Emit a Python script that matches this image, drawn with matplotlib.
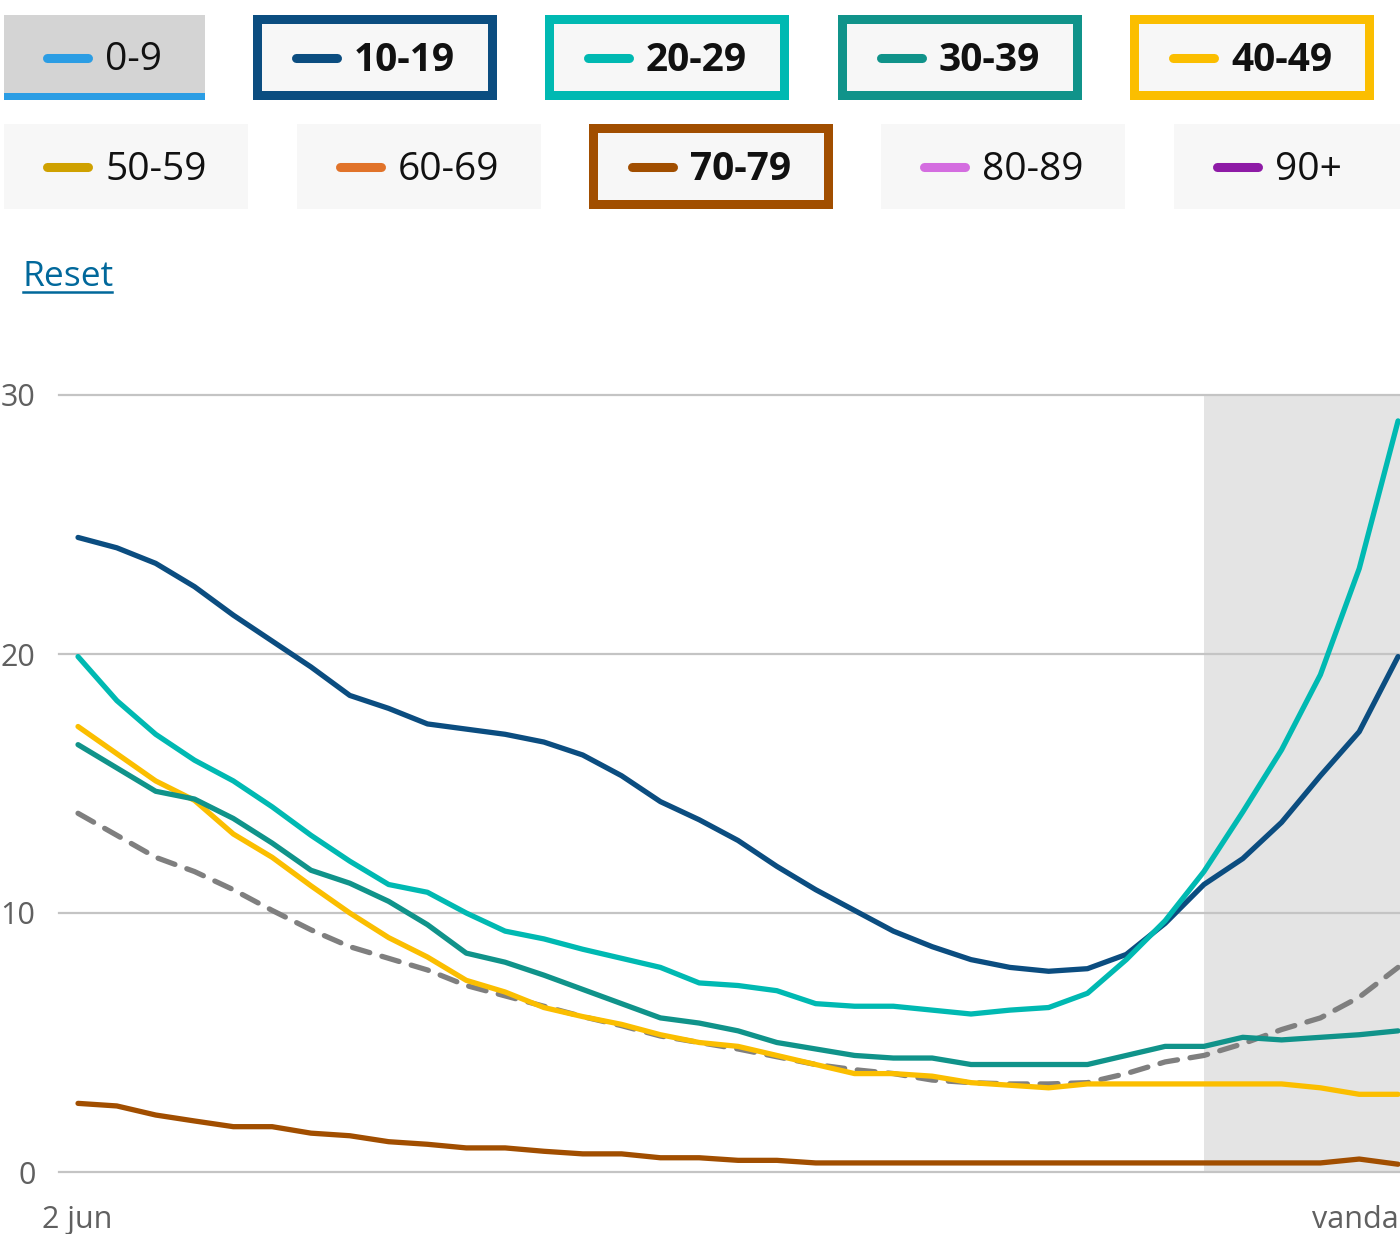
import matplotlib
matplotlib.use("Agg")
import matplotlib.pyplot as plt
from matplotlib.patches import Rectangle
import numpy as np

plt.rcParams['font.family'] = ['Open Sans', 'DejaVu Sans']

# ---- data ----
days = np.arange(35)          # 2 jun .. vandaag
age_10_19 = [24.5, 24.1, 23.5, 22.6, 21.5, 20.5, 19.5, 18.4, 17.9, 17.3, 17.1, 16.9,
             16.6, 16.1, 15.3, 14.3, 13.6, 12.8, 11.8, 10.9, 10.1, 9.3, 8.7, 8.2,
             7.9, 7.75, 7.85, 8.4, 9.6, 11.1, 12.1, 13.5, 15.3, 17.0, 19.9]
age_20_29 = [19.9, 18.2, 16.9, 15.9, 15.1, 14.1, 13.0, 12.0, 11.1, 10.8, 10.0, 9.3,
             9.0, 8.6, 8.25, 7.9, 7.3, 7.2, 7.0, 6.5, 6.4, 6.4, 6.25, 6.1,
             6.25, 6.35, 6.9, 8.2, 9.7, 11.6, 13.9, 16.3, 19.2, 23.3, 29.0]
age_30_39 = [16.5, 15.6, 14.7, 14.4, 13.65, 12.7, 11.65, 11.15, 10.45, 9.55, 8.45, 8.1,
             7.6, 7.05, 6.5, 5.95, 5.75, 5.45, 5.0, 4.75, 4.5, 4.4, 4.4, 4.15,
             4.15, 4.15, 4.15, 4.5, 4.85, 4.85, 5.2, 5.1, 5.2, 5.3, 5.45]
age_40_49 = [17.2, 16.15, 15.1, 14.35, 13.05, 12.15, 11.05, 10.0, 9.05, 8.3, 7.4, 6.95,
             6.35, 6.0, 5.7, 5.3, 5.0, 4.85, 4.5, 4.15, 3.8, 3.8, 3.7, 3.45,
             3.35, 3.25, 3.4, 3.4, 3.4, 3.4, 3.4, 3.4, 3.25, 3.0, 3.0]
age_70_79 = [2.65, 2.55, 2.2, 1.97, 1.75, 1.75, 1.5, 1.4, 1.17, 1.07, 0.93, 0.93,
             0.8, 0.7, 0.7, 0.55, 0.55, 0.45, 0.45, 0.35, 0.35, 0.35, 0.35, 0.35,
             0.35, 0.35, 0.35, 0.35, 0.35, 0.35, 0.35, 0.35, 0.35, 0.5, 0.3]
average = [13.85, 13.0, 12.15, 11.6, 10.9, 10.1, 9.35, 8.7, 8.25, 7.8, 7.2, 6.8,
           6.4, 6.0, 5.65, 5.25, 5.0, 4.75, 4.45, 4.15, 3.95, 3.8, 3.55, 3.45,
           3.4, 3.4, 3.45, 3.8, 4.25, 4.5, 4.95, 5.5, 5.95, 6.75, 7.9]
shade_from = 29

groups = ["0-9", "10-19", "20-29", "30-39", "40-49", "50-59", "60-69", "70-79", "80-89", "90+"]
group_colors = ["#2b9de4", "#0b4d80", "#00b9b2", "#10938a", "#fbbe00",
                "#cfa100", "#e1732a", "#a14e00", "#d46de0", "#8e1ba6"]
selected = ["10-19", "20-29", "30-39", "40-49", "70-79"]
shown = {"10-19": age_10_19, "20-29": age_20_29, "30-39": age_30_39,
         "40-49": age_40_49, "70-79": age_70_79}

W, H = 1400, 1234
fig = plt.figure(figsize=(W / 100, H / 100), dpi=100)

# ---- chart ----
ax = fig.add_axes([59 / W, (H - 1172) / H, (W - 59) / W, (1172 - 395) / H])
ax.set_xlim(-0.49, 34.05)
ax.set_ylim(0, 30)
ax.axvspan(shade_from, 40, color="#e4e4e4", zorder=0, lw=0)
for v in [0, 10, 20, 30]:
    ax.axhline(v, color="#c4c4c4", lw=1.6, zorder=1, clip_on=False)

ax.plot(days, average, color="#7f7f7f", lw=3.8, ls=(0, (3.4, 2.4)),
        dash_capstyle="round", zorder=2)
for g in ["70-79", "40-49", "30-39", "10-19", "20-29"]:
    ax.plot(days, shown[g], color=group_colors[groups.index(g)], lw=3.8,
            solid_capstyle="round", solid_joinstyle="round", zorder=3)

for s in ax.spines.values():
    s.set_visible(False)
ax.set_xticks([])
ax.set_yticks([0, 10, 20, 30])
ax.set_yticklabels(["0", "10", "20", "30"], fontsize=22, color="#606060")
ax.tick_params(axis="y", length=0, pad=17)

# ---- overlay in pixel coordinates for legend buttons and labels ----
ov = fig.add_axes([0, 0, 1, 1])
ov.set_xlim(0, W)
ov.set_ylim(H, 0)
ov.axis("off")
ov.patch.set_alpha(0)

box_lefts = [4, 253, 545, 838, 1130, 4, 297, 589, 881, 1174]
box_tops = [15, 15, 15, 15, 15, 124, 124, 124, 124, 124]
for i, g in enumerate(groups):
    x0, y0 = box_lefts[i], box_tops[i]
    w = 201 if g == "0-9" else 244
    h = 85
    c = group_colors[i]
    if g == "0-9":
        ov.add_patch(Rectangle((x0, y0), w, h, color="#d4d4d4", lw=0))
        ov.add_patch(Rectangle((x0, y0 + h - 7), w, 7, color=c, lw=0))
    elif g in selected:
        ov.add_patch(Rectangle((x0, y0), w, h, color=c, lw=0))
        ov.add_patch(Rectangle((x0 + 9, y0 + 9), w - 18, h - 18, color="#f7f7f7", lw=0))
    else:
        ov.add_patch(Rectangle((x0, y0), w, h, color="#f7f7f7", lw=0))
    yc = y0 + h / 2
    ov.plot([x0 + 43, x0 + 84], [yc, yc], color=c, lw=6.5, solid_capstyle="round")
    ov.text(x0 + 101, yc + 3, g, fontsize=28, va="center", ha="left", color="#111111",
            fontweight="bold" if g in selected else "normal")

ov.text(23, 277, "Reset", fontsize=25.5, color="#01689b", va="center", ha="left")
ov.plot([23, 112], [292, 292], color="#01689b", lw=1.8)

ov.text(77, 1220, "2 jun", fontsize=22, color="#606060", va="center", ha="center")
ov.text(1312, 1220, "vandaag", fontsize=22, color="#606060", va="center", ha="left")

fig.savefig("out.png", dpi=100)
